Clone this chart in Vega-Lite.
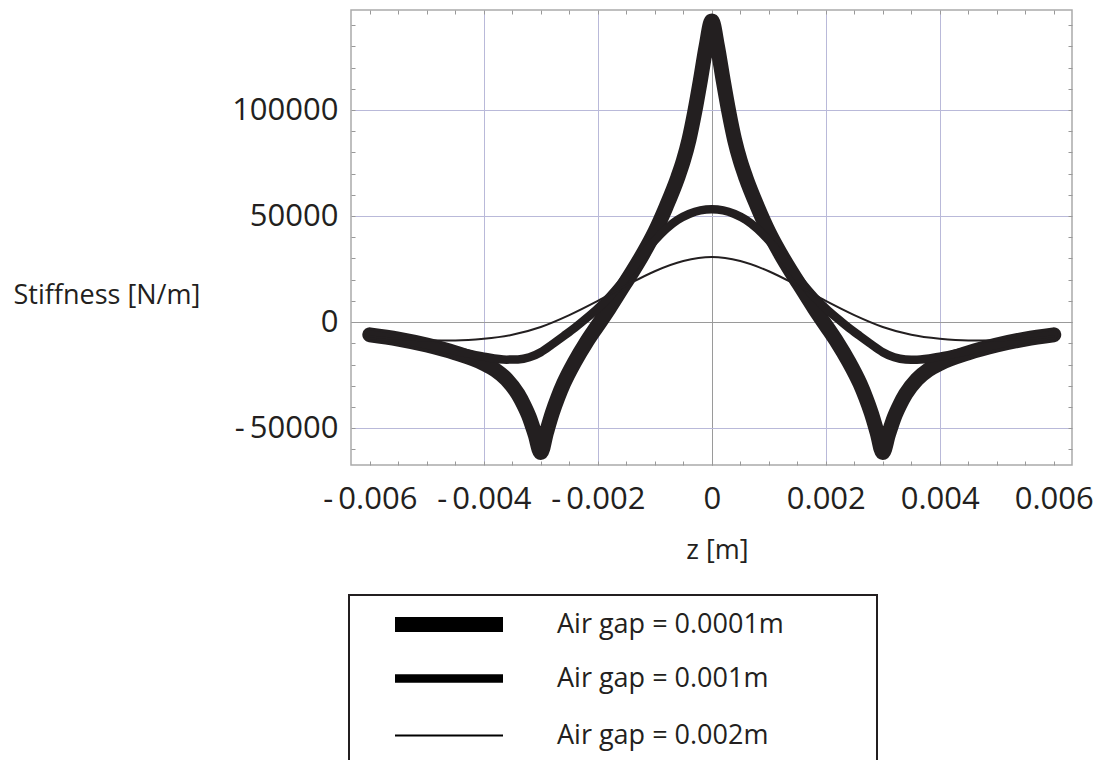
{
  "$schema": "https://vega.github.io/schema/vega-lite/v6.json",
  "width": 721,
  "height": 455,
  "autosize": "none",
  "padding": {"left": 351, "top": 10, "right": 31, "bottom": 295},
  "config": {
    "view": {"stroke": "#aaaaaa", "strokeWidth": 1.5},
    "font": "Open Sans",
    "axis": {"labelFont": "Open Sans", "titleFont": "Open Sans", "labelColor": "#231f20", "titleColor": "#231f20", "titleFontWeight": "normal"}
  },
  "datasets": {
    "curves": [
      {"gap": "Air gap = 0.0001m", "z": -0.006, "k": -6000},
      {"gap": "Air gap = 0.0001m", "z": -0.0055, "k": -8000},
      {"gap": "Air gap = 0.0001m", "z": -0.005, "k": -10800},
      {"gap": "Air gap = 0.0001m", "z": -0.0045, "k": -14500},
      {"gap": "Air gap = 0.0001m", "z": -0.004, "k": -19500},
      {"gap": "Air gap = 0.0001m", "z": -0.0038, "k": -22500},
      {"gap": "Air gap = 0.0001m", "z": -0.0036, "k": -27000},
      {"gap": "Air gap = 0.0001m", "z": -0.0034, "k": -34000},
      {"gap": "Air gap = 0.0001m", "z": -0.0033, "k": -39000},
      {"gap": "Air gap = 0.0001m", "z": -0.0032, "k": -45000},
      {"gap": "Air gap = 0.0001m", "z": -0.0031, "k": -53000},
      {"gap": "Air gap = 0.0001m", "z": -0.003, "k": -61500},
      {"gap": "Air gap = 0.0001m", "z": -0.0029, "k": -52000},
      {"gap": "Air gap = 0.0001m", "z": -0.0028, "k": -43000},
      {"gap": "Air gap = 0.0001m", "z": -0.0027, "k": -35500},
      {"gap": "Air gap = 0.0001m", "z": -0.0026, "k": -29000},
      {"gap": "Air gap = 0.0001m", "z": -0.0024, "k": -18500},
      {"gap": "Air gap = 0.0001m", "z": -0.0022, "k": -9500},
      {"gap": "Air gap = 0.0001m", "z": -0.002, "k": -1500},
      {"gap": "Air gap = 0.0001m", "z": -0.0018, "k": 6500},
      {"gap": "Air gap = 0.0001m", "z": -0.0016, "k": 15000},
      {"gap": "Air gap = 0.0001m", "z": -0.0014, "k": 23500},
      {"gap": "Air gap = 0.0001m", "z": -0.0012, "k": 32500},
      {"gap": "Air gap = 0.0001m", "z": -0.001, "k": 42500},
      {"gap": "Air gap = 0.0001m", "z": -0.0008, "k": 54500},
      {"gap": "Air gap = 0.0001m", "z": -0.0006, "k": 68000},
      {"gap": "Air gap = 0.0001m", "z": -0.0005, "k": 76000},
      {"gap": "Air gap = 0.0001m", "z": -0.0004, "k": 86000},
      {"gap": "Air gap = 0.0001m", "z": -0.0003, "k": 99000},
      {"gap": "Air gap = 0.0001m", "z": -0.0002, "k": 114000},
      {"gap": "Air gap = 0.0001m", "z": -0.0001, "k": 130000},
      {"gap": "Air gap = 0.0001m", "z": 0, "k": 142000},
      {"gap": "Air gap = 0.0001m", "z": 0.0001, "k": 130000},
      {"gap": "Air gap = 0.0001m", "z": 0.0002, "k": 114000},
      {"gap": "Air gap = 0.0001m", "z": 0.0003, "k": 99000},
      {"gap": "Air gap = 0.0001m", "z": 0.0004, "k": 86000},
      {"gap": "Air gap = 0.0001m", "z": 0.0005, "k": 76000},
      {"gap": "Air gap = 0.0001m", "z": 0.0006, "k": 68000},
      {"gap": "Air gap = 0.0001m", "z": 0.0008, "k": 54500},
      {"gap": "Air gap = 0.0001m", "z": 0.001, "k": 42500},
      {"gap": "Air gap = 0.0001m", "z": 0.0012, "k": 32500},
      {"gap": "Air gap = 0.0001m", "z": 0.0014, "k": 23500},
      {"gap": "Air gap = 0.0001m", "z": 0.0016, "k": 15000},
      {"gap": "Air gap = 0.0001m", "z": 0.0018, "k": 6500},
      {"gap": "Air gap = 0.0001m", "z": 0.002, "k": -1500},
      {"gap": "Air gap = 0.0001m", "z": 0.0022, "k": -9500},
      {"gap": "Air gap = 0.0001m", "z": 0.0024, "k": -18500},
      {"gap": "Air gap = 0.0001m", "z": 0.0026, "k": -29000},
      {"gap": "Air gap = 0.0001m", "z": 0.0027, "k": -35500},
      {"gap": "Air gap = 0.0001m", "z": 0.0028, "k": -43000},
      {"gap": "Air gap = 0.0001m", "z": 0.0029, "k": -52000},
      {"gap": "Air gap = 0.0001m", "z": 0.003, "k": -61500},
      {"gap": "Air gap = 0.0001m", "z": 0.0031, "k": -53000},
      {"gap": "Air gap = 0.0001m", "z": 0.0032, "k": -45000},
      {"gap": "Air gap = 0.0001m", "z": 0.0033, "k": -39000},
      {"gap": "Air gap = 0.0001m", "z": 0.0034, "k": -34000},
      {"gap": "Air gap = 0.0001m", "z": 0.0036, "k": -27000},
      {"gap": "Air gap = 0.0001m", "z": 0.0038, "k": -22500},
      {"gap": "Air gap = 0.0001m", "z": 0.004, "k": -19500},
      {"gap": "Air gap = 0.0001m", "z": 0.0045, "k": -14500},
      {"gap": "Air gap = 0.0001m", "z": 0.005, "k": -10800},
      {"gap": "Air gap = 0.0001m", "z": 0.0055, "k": -8000},
      {"gap": "Air gap = 0.0001m", "z": 0.006, "k": -6000},

      {"gap": "Air gap = 0.001m", "z": -0.006, "k": -6000},
      {"gap": "Air gap = 0.001m", "z": -0.0055, "k": -8000},
      {"gap": "Air gap = 0.001m", "z": -0.005, "k": -10600},
      {"gap": "Air gap = 0.001m", "z": -0.0045, "k": -13500},
      {"gap": "Air gap = 0.001m", "z": -0.004, "k": -16300},
      {"gap": "Air gap = 0.001m", "z": -0.0036, "k": -17700},
      {"gap": "Air gap = 0.001m", "z": -0.0034, "k": -17600},
      {"gap": "Air gap = 0.001m", "z": -0.0032, "k": -16600},
      {"gap": "Air gap = 0.001m", "z": -0.003, "k": -14200},
      {"gap": "Air gap = 0.001m", "z": -0.0028, "k": -10500},
      {"gap": "Air gap = 0.001m", "z": -0.0026, "k": -6600},
      {"gap": "Air gap = 0.001m", "z": -0.0024, "k": -2600},
      {"gap": "Air gap = 0.001m", "z": -0.0022, "k": 1800},
      {"gap": "Air gap = 0.001m", "z": -0.002, "k": 6500},
      {"gap": "Air gap = 0.001m", "z": -0.0018, "k": 11800},
      {"gap": "Air gap = 0.001m", "z": -0.0016, "k": 18000},
      {"gap": "Air gap = 0.001m", "z": -0.0014, "k": 25000},
      {"gap": "Air gap = 0.001m", "z": -0.0012, "k": 32000},
      {"gap": "Air gap = 0.001m", "z": -0.001, "k": 38500},
      {"gap": "Air gap = 0.001m", "z": -0.0008, "k": 44000},
      {"gap": "Air gap = 0.001m", "z": -0.0006, "k": 48200},
      {"gap": "Air gap = 0.001m", "z": -0.0004, "k": 51000},
      {"gap": "Air gap = 0.001m", "z": -0.0002, "k": 52700},
      {"gap": "Air gap = 0.001m", "z": 0, "k": 53200},
      {"gap": "Air gap = 0.001m", "z": 0.0002, "k": 52700},
      {"gap": "Air gap = 0.001m", "z": 0.0004, "k": 51000},
      {"gap": "Air gap = 0.001m", "z": 0.0006, "k": 48200},
      {"gap": "Air gap = 0.001m", "z": 0.0008, "k": 44000},
      {"gap": "Air gap = 0.001m", "z": 0.001, "k": 38500},
      {"gap": "Air gap = 0.001m", "z": 0.0012, "k": 32000},
      {"gap": "Air gap = 0.001m", "z": 0.0014, "k": 25000},
      {"gap": "Air gap = 0.001m", "z": 0.0016, "k": 18000},
      {"gap": "Air gap = 0.001m", "z": 0.0018, "k": 11800},
      {"gap": "Air gap = 0.001m", "z": 0.002, "k": 6500},
      {"gap": "Air gap = 0.001m", "z": 0.0022, "k": 1800},
      {"gap": "Air gap = 0.001m", "z": 0.0024, "k": -2600},
      {"gap": "Air gap = 0.001m", "z": 0.0026, "k": -6600},
      {"gap": "Air gap = 0.001m", "z": 0.0028, "k": -10500},
      {"gap": "Air gap = 0.001m", "z": 0.003, "k": -14200},
      {"gap": "Air gap = 0.001m", "z": 0.0032, "k": -16600},
      {"gap": "Air gap = 0.001m", "z": 0.0034, "k": -17600},
      {"gap": "Air gap = 0.001m", "z": 0.0036, "k": -17700},
      {"gap": "Air gap = 0.001m", "z": 0.004, "k": -16300},
      {"gap": "Air gap = 0.001m", "z": 0.0045, "k": -13500},
      {"gap": "Air gap = 0.001m", "z": 0.005, "k": -10600},
      {"gap": "Air gap = 0.001m", "z": 0.0055, "k": -8000},
      {"gap": "Air gap = 0.001m", "z": 0.006, "k": -6000},

      {"gap": "Air gap = 0.002m", "z": -0.006, "k": -6800},
      {"gap": "Air gap = 0.002m", "z": -0.0055, "k": -7900},
      {"gap": "Air gap = 0.002m", "z": -0.005, "k": -8600},
      {"gap": "Air gap = 0.002m", "z": -0.0045, "k": -8700},
      {"gap": "Air gap = 0.002m", "z": -0.004, "k": -7900},
      {"gap": "Air gap = 0.002m", "z": -0.0035, "k": -6000},
      {"gap": "Air gap = 0.002m", "z": -0.003, "k": -2300},
      {"gap": "Air gap = 0.002m", "z": -0.0025, "k": 3300},
      {"gap": "Air gap = 0.002m", "z": -0.002, "k": 10000},
      {"gap": "Air gap = 0.002m", "z": -0.0015, "k": 17300},
      {"gap": "Air gap = 0.002m", "z": -0.001, "k": 24000},
      {"gap": "Air gap = 0.002m", "z": -0.0005, "k": 28800},
      {"gap": "Air gap = 0.002m", "z": 0, "k": 30700},
      {"gap": "Air gap = 0.002m", "z": 0.0005, "k": 28800},
      {"gap": "Air gap = 0.002m", "z": 0.001, "k": 24000},
      {"gap": "Air gap = 0.002m", "z": 0.0015, "k": 17300},
      {"gap": "Air gap = 0.002m", "z": 0.002, "k": 10000},
      {"gap": "Air gap = 0.002m", "z": 0.0025, "k": 3300},
      {"gap": "Air gap = 0.002m", "z": 0.003, "k": -2300},
      {"gap": "Air gap = 0.002m", "z": 0.0035, "k": -6000},
      {"gap": "Air gap = 0.002m", "z": 0.004, "k": -7900},
      {"gap": "Air gap = 0.002m", "z": 0.0045, "k": -8700},
      {"gap": "Air gap = 0.002m", "z": 0.005, "k": -8600},
      {"gap": "Air gap = 0.002m", "z": 0.0055, "k": -7900},
      {"gap": "Air gap = 0.002m", "z": 0.006, "k": -6800}
    ]
  },
  "data": {"name": "curves"},
  "resolve": {"axis": {"x": "independent", "y": "independent"}},
  "layer": [
    {
      "mark": {"type": "point", "opacity": 0},
      "encoding": {
        "x": {"field": "z", "type": "quantitative", "scale": {"domain": [-0.00633, 0.00632], "nice": false, "zero": false},
          "axis": {"orient": "bottom", "values": [-0.006, -0.0055, -0.005, -0.0045, -0.004, -0.0035, -0.003, -0.0025, -0.002, -0.0015, -0.001, -0.0005, 0, 0.0005, 0.001, 0.0015, 0.002, 0.0025, 0.003, 0.0035, 0.004, 0.0045, 0.005, 0.0055, 0.006],
            "labels": false, "grid": false, "domain": false, "ticks": true, "tickSize": -4, "tickColor": "#999999", "title": null}},
        "y": {"field": "k", "type": "quantitative", "scale": {"domain": [-67400, 147200], "nice": false, "zero": false},
          "axis": {"orient": "left", "values": [-60000, -50000, -40000, -30000, -20000, -10000, 0, 10000, 20000, 30000, 40000, 50000, 60000, 70000, 80000, 90000, 100000, 110000, 120000, 130000, 140000],
            "labels": false, "grid": false, "domain": false, "ticks": true, "tickSize": -4, "tickColor": "#999999", "title": null}}
      }
    },
    {
      "mark": {"type": "point", "opacity": 0},
      "encoding": {
        "x": {"field": "z", "type": "quantitative", "scale": {"domain": [-0.00633, 0.00632], "nice": false, "zero": false},
          "axis": {"orient": "top", "values": [-0.006, -0.0055, -0.005, -0.0045, -0.004, -0.0035, -0.003, -0.0025, -0.002, -0.0015, -0.001, -0.0005, 0, 0.0005, 0.001, 0.0015, 0.002, 0.0025, 0.003, 0.0035, 0.004, 0.0045, 0.005, 0.0055, 0.006],
            "labels": false, "grid": false, "domain": false, "ticks": true, "tickSize": -4, "tickColor": "#999999", "title": null}},
        "y": {"field": "k", "type": "quantitative", "scale": {"domain": [-67400, 147200], "nice": false, "zero": false},
          "axis": {"orient": "right", "values": [-60000, -50000, -40000, -30000, -20000, -10000, 0, 10000, 20000, 30000, 40000, 50000, 60000, 70000, 80000, 90000, 100000, 110000, 120000, 130000, 140000],
            "labels": false, "grid": false, "domain": false, "ticks": true, "tickSize": -4, "tickColor": "#999999", "title": null}}
      }
    },
    {
      "mark": {"type": "line", "color": "#231f20", "strokeJoin": "round", "strokeCap": "round", "interpolate": "monotone"},
      "encoding": {
        "x": {"field": "z", "type": "quantitative", "scale": {"domain": [-0.00633, 0.00632], "nice": false, "zero": false},
          "axis": {"orient": "bottom", "values": [-0.006, -0.004, -0.002, 0, 0.002, 0.004, 0.006],
            "labelExpr": "datum.value == 0 ? '0' : (datum.value < 0 ? '-\u2009' + format(-datum.value, '.3f') : format(datum.value, '.3f'))",
            "labelFontSize": 31, "labelPadding": 19, "ticks": false, "domain": false,
            "grid": true, "gridWidth": 1,
            "gridColor": {"condition": {"test": "datum.value == 0", "value": "#9a9a9a"}, "value": "#b9b9d9"},
            "gridOpacity": {"condition": {"test": "abs(datum.value) > 0.005", "value": 0}, "value": 1},
            "labelOverlap": false,
            "title": "z [m]", "titleFontSize": 27, "titleX": 366, "titleY": 85, "titleBaseline": "middle", "titleAlign": "center"}},
        "y": {"field": "k", "type": "quantitative", "scale": {"domain": [-67400, 147200], "nice": false, "zero": false},
          "axis": {"orient": "left", "values": [-50000, 0, 50000, 100000],
            "labelExpr": "datum.value < 0 ? '-\u2009' + format(-datum.value, 'd') : format(datum.value, 'd')",
            "labelFontSize": 31, "labelPadding": 13, "ticks": false, "domain": false,
            "grid": true, "gridWidth": 1,
            "gridColor": {"condition": {"test": "datum.value == 0", "value": "#9a9a9a"}, "value": "#b9b9d9"},
            "labelOverlap": false,
            "title": "Stiffness [N/m]", "titleFontSize": 27, "titleAngle": 0, "titleX": -338, "titleY": 285, "titleAlign": "left", "titleBaseline": "middle"}},
        "strokeWidth": {"field": "gap", "type": "ordinal",
          "scale": {"type": "point", "domain": ["Air gap = 0.0001m", "Air gap = 0.001m", "Air gap = 0.002m"], "range": [15, 2]},
          "legend": {"orient": "none", "legendX": -2, "legendY": 585,
            "title": [" ", " ", " ", " ", " ", " ", " "], "titleOrient": "right", "titlePadding": 80, "titleFontSize": 27, "titleLineHeight": 30,
            "padding": 13, "symbolOffset": 70.5, "symbolType": "M-6,0H6", "symbolSize": 324, "symbolStrokeColor": "#000000",
            "labelFont": "Open Sans", "labelFontSize": 27, "labelOffset": 91.5, "labelColor": "#231f20", "labelLimit": 400,
            "gridAlign": "all", "rowPadding": 6, "strokeColor": "#231f20", "fillColor": "white",
            "encode": {"legend": {"update": {"strokeWidth": {"value": 2}}}}}}
      }
    }
  ]
}
